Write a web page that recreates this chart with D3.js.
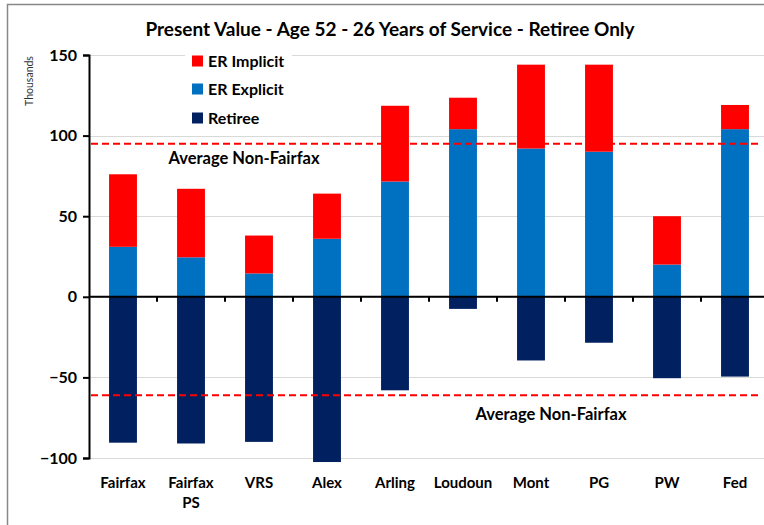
<!DOCTYPE html>
<html>
<head>
<meta charset="utf-8">
<script src="https://cdn.jsdelivr.net/npm/d3@7"></script>
<style>
  body { margin: 0; background: #fff; }
  svg { display: block; font-family: Lato, "Open Sans", sans-serif; }
  .bold { font-weight: bold; fill: #000; }
</style>
</head>
<body>
<svg id="chart"></svg>
<script>
// chart data (thousands)
var categories = ["Fairfax", "Fairfax PS", "VRS", "Alex", "Arling", "Loudoun", "Mont", "PG", "PW", "Fed"];
var erExplicit = [31, 24.5, 14.5, 36, 71.5, 104, 92, 90, 20, 104];
var erImplicit = [45, 42.5, 23.5, 28, 47, 19.5, 52, 54, 30, 15];
var retiree = [-90.5, -91, -90, -102.5, -58, -7.5, -39.5, -28.5, -50.5, -49.5];
var avgLines = [95, -61];
var yTicks = [-100, -50, 0, 50, 100, 150];
var seriesNames = ["ER Implicit", "ER Explicit", "Retiree"];
var seriesColors = ["#ff0000", "#0070c0", "#002060"];

var width = 764, height = 525;

var svg = d3.select("#chart")
    .attr("width", width)
    .attr("height", height);

// outer border of the chart area (right/bottom are cropped off)
svg.append("path")
    .attr("d", "M7.5," + height + "V4.5H" + width)
    .attr("fill", "none")
    .attr("stroke", "#888")
    .attr("stroke-width", 1.5);

var x = d3.scaleBand().domain(categories).range([89, 769]);
var y = d3.scaleLinear().domain([-100, 150]).range([458, 55]);
var barW = x.bandwidth() * 0.41;

// gridlines
svg.append("g")
    .selectAll("line")
    .data(yTicks)
    .enter()
    .append("line")
    .attr("x1", 89).attr("x2", width)
    .attr("y1", function(d) { return Math.round(y(d)) + 0.5; })
    .attr("y2", function(d) { return Math.round(y(d)) + 0.5; })
    .attr("stroke", "#d9d9d9")
    .attr("stroke-width", 1);

// stacked bars
var rows = categories.map(function(c, i) {
    return { cat: c, explicit: erExplicit[i], implicit: erImplicit[i], retiree: retiree[i] };
});

var bars = svg.append("g");
function addBars(y0f, y1f, color) {
    bars.selectAll(null)
        .data(rows)
        .enter()
        .append("rect")
        .attr("x", function(d) { return x(d.cat) + (x.bandwidth() - barW) / 2; })
        .attr("width", barW)
        .attr("y", function(d) { return Math.min(y(y0f(d)), y(y1f(d))); })
        .attr("height", function(d) { return Math.abs(y(y0f(d)) - y(y1f(d))); })
        .attr("fill", color);
}
addBars(function() { return 0; }, function(d) { return d.explicit; }, seriesColors[1]);
addBars(function(d) { return d.explicit; }, function(d) { return d.explicit + d.implicit; }, seriesColors[0]);
addBars(function() { return 0; }, function(d) { return d.retiree; }, seriesColors[2]);

// average lines
svg.append("g")
    .selectAll("line")
    .data(avgLines)
    .enter()
    .append("line")
    .attr("x1", 91).attr("x2", 758)
    .attr("y1", function(d) { return y(d); })
    .attr("y2", function(d) { return y(d); })
    .attr("stroke", "#ff0000")
    .attr("stroke-width", 2)
    .attr("stroke-dasharray", "7,4");

svg.append("text")
    .attr("class", "bold")
    .attr("x", 244).attr("y", y(avgLines[0]) + 20)
    .attr("text-anchor", "middle")
    .attr("font-size", "16.5px")
    .text("Average Non-Fairfax");

svg.append("text")
    .attr("class", "bold")
    .attr("x", 551).attr("y", y(avgLines[1]) + 25)
    .attr("text-anchor", "middle")
    .attr("font-size", "16.5px")
    .text("Average Non-Fairfax");

// y axis
var yAxis = svg.append("g")
    .attr("transform", "translate(89,0)")
    .call(d3.axisLeft(y).tickValues(yTicks).tickSize(6).tickPadding(6));
yAxis.select(".domain").attr("stroke", "#000").attr("stroke-width", 2);
yAxis.selectAll(".tick line").attr("stroke", "#000").attr("stroke-width", 2);
yAxis.selectAll(".tick text")
    .attr("font-size", "16px")
    .attr("font-weight", "bold")
    .attr("font-family", "Lato, sans-serif")
    .attr("fill", "#000");

// x axis at zero, ticks on category boundaries
var xAxisG = svg.append("g");
xAxisG.append("line")
    .attr("x1", 89).attr("x2", width)
    .attr("y1", y(0)).attr("y2", y(0))
    .attr("stroke", "#000").attr("stroke-width", 2);
xAxisG.selectAll(".bt")
    .data(categories.slice(1))
    .enter()
    .append("line")
    .attr("x1", function(d) { return x(d); })
    .attr("x2", function(d) { return x(d); })
    .attr("y1", y(0)).attr("y2", y(0) + 5)
    .attr("stroke", "#000").attr("stroke-width", 2);

// category labels
svg.append("g")
    .selectAll("text")
    .data(categories)
    .enter()
    .append("text")
    .attr("class", "bold")
    .attr("text-anchor", "middle")
    .attr("font-size", "15px")
    .attr("x", function(d) { return x(d) + x.bandwidth() / 2; })
    .attr("y", 488)
    .each(function(d) {
        var words = d.split(" ");
        var t = d3.select(this);
        words.forEach(function(w, i) {
            t.append("tspan")
                .attr("x", x(d) + x.bandwidth() / 2)
                .attr("dy", i === 0 ? 0 : 20)
                .text(w);
        });
    });

// "Thousands" unit label
svg.append("text")
    .attr("transform", "translate(33,81) rotate(-90)")
    .attr("text-anchor", "middle")
    .attr("font-size", "10.5px")
    .attr("fill", "#333")
    .text("Thousands");

// title
svg.append("text")
    .attr("class", "bold")
    .attr("x", 390).attr("y", 36)
    .attr("text-anchor", "middle")
    .attr("font-size", "19px")
    .text("Present Value - Age 52 - 26 Years of Service - Retiree Only");

// legend
var legend = svg.append("g");
legend.append("rect")
    .attr("x", 185).attr("y", 48)
    .attr("width", 107).attr("height", 84)
    .attr("fill", "#fff");
var li = legend.selectAll(".li")
    .data(seriesNames)
    .enter()
    .append("g")
    .attr("transform", function(d, i) { return "translate(192," + [61, 89, 118][i] + ")"; });
li.append("rect")
    .attr("x", 0).attr("y", -5.5)
    .attr("width", 11).attr("height", 11)
    .attr("fill", function(d, i) { return seriesColors[i]; });
li.append("text")
    .attr("class", "bold")
    .attr("x", 16).attr("y", 5.5)
    .attr("font-size", "16px")
    .text(function(d) { return d; });
</script>
</body>
</html>
